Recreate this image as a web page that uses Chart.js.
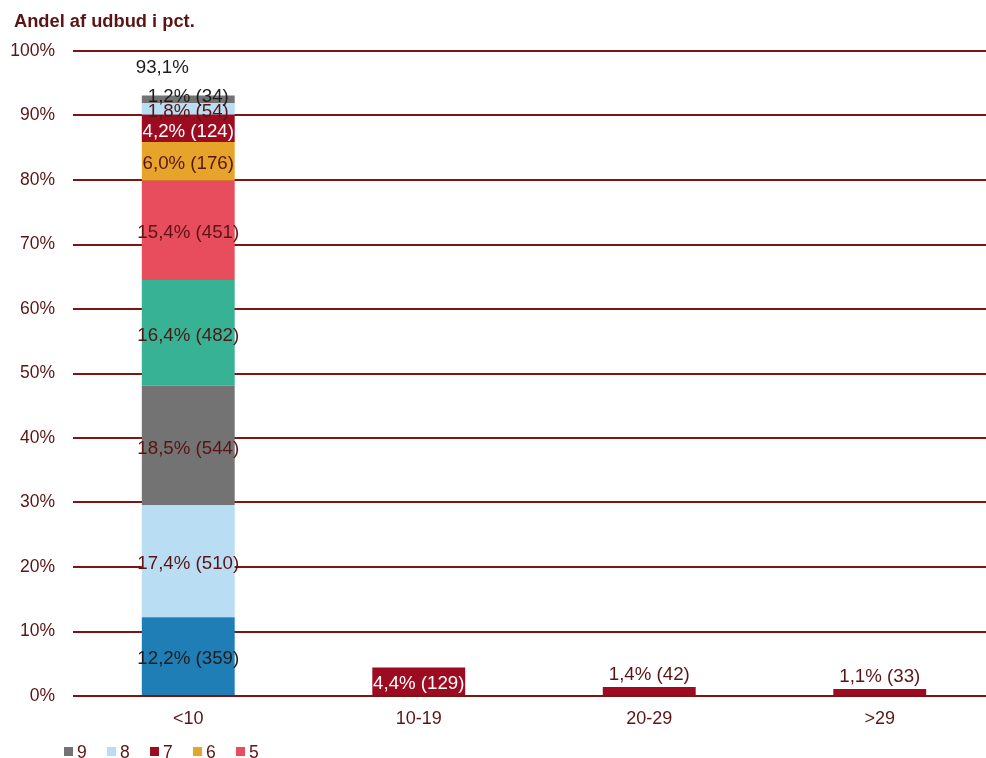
<!DOCTYPE html>
<html>
<head>
<meta charset="utf-8">
<script src="https://cdn.jsdelivr.net/npm/chart.js@4/dist/chart.umd.min.js"></script>
<style>
  html, body { margin: 0; padding: 0; background: #fff; overflow: hidden; width: 986px; height: 758px; }
  #wrap { position: absolute; left: 0; top: 0; width: 996px; height: 758px; }
</style>
</head>
<body>
<div id="wrap"><canvas id="c" width="996" height="758"></canvas></div>
<script>
// ---- data ----
const categories = ['<10', '10-19', '20-29', '>29'];
const seriesNames = ['1', '2', '3', '4', '5', '6', '7', '8', '9'];
// shares (pct) of the stacked "<10" column, series 1..9
const stackShares = [12.2, 17.4, 18.5, 16.4, 15.4, 6.0, 4.2, 1.8, 1.2];
const stackCounts = [359, 510, 544, 482, 451, 176, 124, 54, 34];
// series 7 values in the other columns
const otherShares = [4.4, 1.4, 1.1];
const otherCounts = [129, 42, 33];
const yTicks = [0, 10, 20, 30, 40, 50, 60, 70, 80, 90, 100];
const legendOrder = ['9', '8', '7', '6', '5'];
const yTitle = 'Andel af udbud i pct.';

// ---- styles ----
const colors = ['#1f7eb6', '#b9ddf3', '#737373', '#38b295', '#e84d5d', '#e6a42b', '#9c0b1f', '#b9ddf3', '#737373'];
const labelColors = ['#1c1c1c', '#5b1414', '#5b1414', '#4a1a14', '#5b1414', '#5b1414', '#ffffff', '#5b1414', '#1c1c1c'];
const darkRed = '#5b1414';
const gridRed = '#7d1515';
const FONT = '"Liberation Sans", Arial, sans-serif';

const datasets = seriesNames.map((name, i) => {
  const data = categories.map((c, j) => {
    if (j === 0) return stackShares[i];
    return name === '7' ? otherShares[j - 1] : null;
  });
  const counts = categories.map((c, j) => {
    if (j === 0) return stackCounts[i];
    return name === '7' ? otherCounts[j - 1] : null;
  });
  return {
    label: name,
    data: data,
    counts: counts,
    backgroundColor: colors[i],
    borderWidth: 0,
    stack: 's'
  };
});

function fmt(v) { return v.toFixed(1).replace('.', ',') + '%'; }

const labelPlugin = {
  id: 'labels',
  afterDatasetsDraw(chart) {
    const ctx = chart.ctx;
    ctx.save();
    ctx.font = '18.7px ' + FONT;
    ctx.textAlign = 'center';
    ctx.textBaseline = 'middle';
    chart.data.datasets.forEach((ds, i) => {
      const meta = chart.getDatasetMeta(i);
      meta.data.forEach((el, j) => {
        const v = ds.data[j];
        if (v == null) return;
        const txt = fmt(v) + ' (' + ds.counts[j] + ')';
        let y = (el.y + el.base) / 2 + 2;
        let color = labelColors[i];
        if (j >= 2) { y = el.y - 13; color = darkRed; }
        if (j === 0 && i === chart.data.datasets.length - 1) y -= 6;
        ctx.fillStyle = color;
        ctx.fillText(txt, el.x, y + 1);
      });
    });
    // total label of first column
    const total = stackShares.reduce((a, b) => a + b, 0);
    const xs = chart.scales.x, ys = chart.scales.y;
    ctx.fillStyle = '#1c1c1c';
    ctx.fillText(fmt(total), xs.getPixelForValue(0) - 26, ys.getPixelForValue(total) - 28);
    ctx.restore();
  },
  afterDraw(chart) {
    const ctx = chart.ctx;
    ctx.save();
    // axis title
    ctx.font = 'bold 18.3px ' + FONT;
    ctx.fillStyle = darkRed;
    ctx.textAlign = 'left';
    ctx.textBaseline = 'alphabetic';
    ctx.fillText(yTitle, 14, 27);
    // legend
    ctx.font = '17.5px ' + FONT;
    legendOrder.forEach((name, k) => {
      const idx = seriesNames.indexOf(name);
      const x = 64 + k * 43;
      ctx.fillStyle = colors[idx];
      ctx.fillRect(x, 747, 9, 9);
      ctx.fillStyle = darkRed;
      ctx.fillText(name, x + 13, 758);
    });
    ctx.restore();
  }
};

new Chart(document.getElementById('c'), {
  type: 'bar',
  data: { labels: categories, datasets: datasets },
  options: {
    responsive: false,
    animation: false,
    layout: { padding: { top: 51, right: 1, left: 0, bottom: 0 } },
    datasets: { bar: { categoryPercentage: 1, barPercentage: 0.403 } },
    plugins: { legend: { display: false }, tooltip: { enabled: false }, title: { display: false } },
    scales: {
      x: {
        stacked: true,
        grid: { display: false, drawTicks: false },
        border: { display: false },
        ticks: { color: darkRed, font: { family: FONT, size: 18 }, padding: 12 },
        afterFit(s) { s.height = 62; }
      },
      y: {
        stacked: true,
        min: 0, max: 100,
        afterBuildTicks(s) { s.ticks = yTicks.map(v => ({ value: v })); },
        grid: { color: gridRed, lineWidth: 2, drawTicks: false },
        border: { display: false },
        ticks: { color: darkRed, font: { family: FONT, size: 17.5 }, padding: 18, callback: v => v + '%' },
        afterFit(s) { s.width = 73; }
      }
    }
  },
  plugins: [labelPlugin]
});
</script>
</body>
</html>
